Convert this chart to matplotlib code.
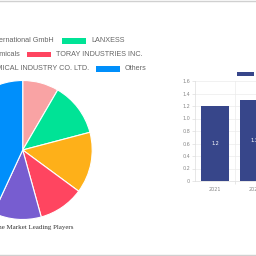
import matplotlib
matplotlib.use("Agg")
import matplotlib.pyplot as plt
from matplotlib.patches import Rectangle
from matplotlib.lines import Line2D

# pie data (clockwise from 12 o'clock)
players = ["International GmbH", "LANXESS", "Chemicals", "TORAY INDUSTRIES INC.",
           "CHEMICAL INDUSTRY CO. LTD.", "Others"]
shares = [8.4, 12.5, 14.2, 10.6, 11.2, 43.1]
pie_colors = ["#F9A3A4", "#00E396", "#FEB019", "#FF4560", "#775DD0", "#008FFB"]
pie_title = "Chloroprene Market Leading Players"

# bar data
years = ["2021", "2022"]
market_size = [1.2, 1.3]
y_ticks = [0, 0.2, 0.4, 0.6, 0.8, 1.0, 1.2, 1.4, 1.6]
y_labels = ["0", "0.2", "0.4", "0.6", "0.8", "1.0", "1.2", "1.4", "1.6"]
bar_color = "#37468A"

W = H = 256.0


def fx(x):
    return x / W


def fy(y):
    return 1 - y / H


fig = plt.figure(figsize=(2.56, 2.56), dpi=100)
fig.patch.set_facecolor("white")

# ----- pie -----
cx, cy, r = 22.7, 150, 69.5
ax_pie = fig.add_axes([fx(cx - r), fy(cy + r), 2 * r / W, 2 * r / H])
ax_pie.pie(shares, colors=pie_colors, startangle=90, counterclock=False,
           wedgeprops=dict(edgecolor="white", linewidth=0.8))
ax_pie.set_xlim(-1, 1)
ax_pie.set_ylim(-1, 1)
ax_pie.set_aspect("equal")
ax_pie.axis("off")

fig.text(fx(74), fy(227), pie_title, ha="right", va="center", fontsize=5,
         family="Liberation Serif", color="#333333")

# legend, two items per row; left column is cut off by the frame
rows_y = [40.7, 54.3, 68.7]
left_text_end = [54, 20, 89]
right_box_x = [62, 27, 96]
for i, row_y in enumerate(rows_y):
    fig.text(fx(left_text_end[i]), fy(row_y), players[2 * i], ha="right", va="center",
             fontsize=5.2, family="Liberation Sans", color="#666666")
    bx = right_box_x[i]
    fig.patches.append(Rectangle((fx(bx), fy(row_y + 2.8)), 24 / W, 5.6 / H,
                                 transform=fig.transFigure, facecolor=pie_colors[2 * i + 1],
                                 edgecolor="none"))
    fig.text(fx(bx + 29), fy(row_y), players[2 * i + 1], ha="left", va="center",
             fontsize=5.2, family="Liberation Sans", color="#666666")

# ----- bars -----
left, bottom, top = 195.3, 181, 81
cat_w = 39.4
ax_bar = fig.add_axes([fx(left), fy(bottom), len(years) * cat_w / W, (bottom - top) / H])
xs = list(range(len(years)))
bars = ax_bar.bar(xs, market_size, width=0.73, color=bar_color, zorder=3)
for x, v in zip(xs, market_size):
    ax_bar.text(x, v / 2, f"{v}", ha="center", va="center", fontsize=3.5,
                color="white", zorder=4)
ax_bar.set_xlim(-0.5, len(years) - 0.5)
ax_bar.set_ylim(0, 1.6)
ax_bar.set_yticks(y_ticks)
ax_bar.set_yticklabels(y_labels)
ax_bar.set_xticks(xs)
ax_bar.set_xticklabels(years)
ax_bar.tick_params(axis="both", labelsize=3.5, labelcolor="#888888", color="#dddddd",
                   length=2.2, width=0.5, pad=1.5)
ax_bar.tick_params(axis="x", length=0, pad=4)
ax_bar.set_xticks([x + 0.5 for x in xs], minor=True)
ax_bar.tick_params(axis="x", which="minor", length=2.2, color="#dddddd", width=0.5)
ax_bar.grid(axis="y", color="#ebebeb", linewidth=0.5, zorder=0)
ax_bar.grid(axis="x", which="minor", color="#ebebeb", linewidth=0.5, zorder=0)
for s in ["top", "right"]:
    ax_bar.spines[s].set_visible(False)
for s in ["left", "bottom"]:
    ax_bar.spines[s].set_color("#dddddd")
    ax_bar.spines[s].set_linewidth(0.5)

# bar legend swatch (label runs off the frame)
fig.patches.append(Rectangle((fx(237), fy(76.3)), 17 / W, 4.6 / H, transform=fig.transFigure,
                             facecolor=bar_color, edgecolor="none"))

# frame lines
fig.lines.append(Line2D([0, 1], [fy(0.5), fy(0.5)], transform=fig.transFigure,
                        color="#d0d0d0", linewidth=1))
fig.lines.append(Line2D([0, 1], [fy(254.8), fy(254.8)], transform=fig.transFigure,
                        color="#d0d0d0", linewidth=1))

fig.savefig("out.png", dpi=100, facecolor="white")
